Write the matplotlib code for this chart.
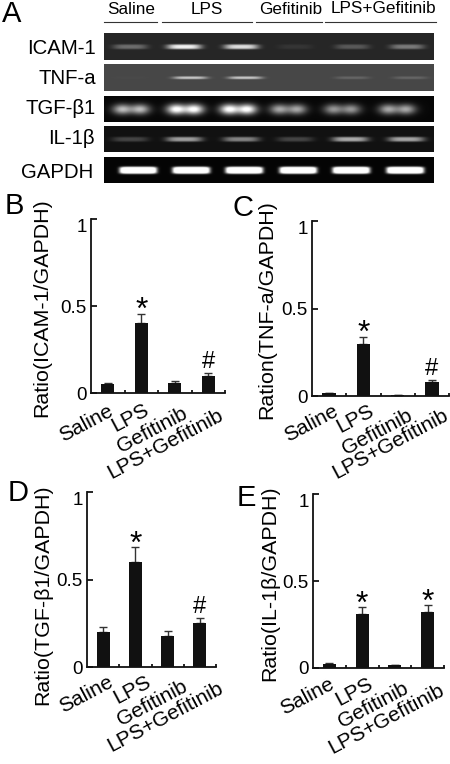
import numpy as np
import matplotlib
matplotlib.use("Agg")
from matplotlib import pyplot as plt
from matplotlib.lines import Line2D

W, H = 450, 764
plt.rcParams['font.family'] = ['Liberation Sans', 'DejaVu Sans']

groups = ['Saline', 'LPS', 'Gefitinib', 'LPS+Gefitinib']
genes = ['ICAM-1', 'TNF-a', 'TGF-β1', 'IL-1β', 'GAPDH']

# band brightness per lane
icam_bands = [0.28, 0.80, 0.72, 0.06, 0.20, 0.33]
tnf_bands = [0.01, 0.50, 0.50, 0.00, 0.12, 0.12]
tgf_bands = [0.70, 1.00, 1.00, 0.62, 0.55, 0.62]
il_bands = [0.20, 0.55, 0.45, 0.20, 0.60, 0.58]
gapdh_bands = [1.6, 1.6, 1.6, 1.6, 1.6, 1.6]
# lane centres in each strip
icam_lanes = [130, 184, 241, 295, 352, 407]
tnf_lanes = [130, 190, 245, 298, 352, 410]
tgf_lanes = [131, 185, 238, 288, 342, 397]
il_lanes = [130, 184, 241, 295, 350, 406]
gapdh_lanes = [138, 191, 244, 298, 351, 405]

icam_vals = [0.05, 0.40, 0.055, 0.095]
icam_err = [0.008, 0.055, 0.012, 0.018]
tnf_vals = [0.015, 0.30, 0.005, 0.08]
tnf_err = [0.005, 0.04, 0.002, 0.012]
tgf_vals = [0.20, 0.60, 0.175, 0.25]
tgf_err = [0.03, 0.085, 0.03, 0.03]
il_vals = [0.025, 0.31, 0.015, 0.32]
il_err = [0.006, 0.04, 0.005, 0.04]

fig = plt.figure(figsize=(W / 100, H / 100), dpi=100)


def px_axes(left, top, right, bottom):
    return fig.add_axes([left / W, 1 - bottom / H, (right - left) / W, (bottom - top) / H])


def px_text(x, y, s, **kw):
    fig.text(x / W, 1 - y / H, s, **kw)


def gel_strip(top, bottom, bands, lanes, bg, half_w, half_h, lobes=False, edge=4):
    ax = px_axes(104, top, 434, bottom)
    xs = np.arange(104, 434, 0.5)
    ys = np.arange(0, bottom - top, 0.5)
    xx, yy = np.meshgrid(xs, ys)
    img = np.full(xx.shape, bg, dtype=float)
    mid = (bottom - top) * 0.5
    for lane, level in zip(lanes, bands):
        if lobes:
            # two bright lobes in the wide TGF bands
            band = np.exp(-((xx - lane + 9) / 9.5) ** 2) + np.exp(-((xx - lane - 9) / 9.5) ** 2)
            band = band * np.exp(-((yy - mid) / half_h) ** 2)
        else:
            band = np.exp(-((xx - lane) / half_w) ** edge) * np.exp(-((yy - mid) / half_h) ** 4)
        img += level * band
    ax.imshow(np.clip(img, 0, 1), cmap='gray', vmin=0, vmax=1, aspect='auto',
              extent=(104, 434, bottom - top, 0), interpolation='bilinear')
    ax.axis('off')


gel_strip(33, 60, icam_bands, icam_lanes, 0.15, 17, 2.4)
gel_strip(64, 91, tnf_bands, tnf_lanes, 0.28, 17, 1.4)
gel_strip(96, 122, tgf_bands, tgf_lanes, 0.03, 18, 5.0, lobes=True)
gel_strip(126, 152, il_bands, il_lanes, 0.07, 18, 2.4)
gel_strip(157, 183, gapdh_bands, gapdh_lanes, 0.02, 18.5, 3.4, edge=8)

for gene, y, x in zip(genes, [48, 78, 108, 139, 172], [96, 96, 96, 95, 93]):
    px_text(x, y, gene, fontsize=14.7, ha='right', va='center', color='#000000')

for name, x, y in zip(groups, [131, 207, 291, 383], [14, 14, 14, 13]):
    px_text(x, y, name, fontsize=12.3, ha='center', va='baseline', color='#000000')
for x0, x1 in [(104, 157), (162, 252), (256, 322), (325, 436)]:
    fig.add_artist(Line2D([x0 / W, x1 / W], [1 - 22 / H, 1 - 22 / H], color='#333333', lw=0.8))

for letter, x, y in [('A', 2, 22), ('B', 5, 214), ('C', 232, 216), ('D', 8, 501), ('E', 237, 506)]:
    px_text(x, y, letter, fontsize=21, ha='left', va='baseline', color='#000000')


def bar_panel(box, vals, err, marks, ylabel, label_xy, ends):
    ax = px_axes(*box)
    x = np.arange(len(vals))
    ax.bar(x, vals, width=0.4, color='#111111', zorder=3)
    ax.errorbar(x, vals, yerr=[np.zeros(len(vals)), err], fmt='none', ecolor='#333333',
                elinewidth=1.0, capsize=3, capthick=1.0, zorder=2)
    ax.set_xlim(-0.5, 3.5)
    ax.set_ylim(0, 1)
    ax.spines['top'].set_visible(False)
    ax.spines['right'].set_visible(False)
    for side in ['left', 'bottom']:
        ax.spines[side].set_linewidth(1.3)
        ax.spines[side].set_color('#111111')
    ax.set_yticks([0, 0.5, 1], ['0', '0.5', '1'])
    ax.tick_params(axis='y', direction='in', length=4, width=1.2, labelsize=13.5, pad=3)
    ax.get_yticklabels()[2].set_verticalalignment('top')
    ax.set_xticks(x + 0.5)
    ax.set_xticklabels([])
    ax.tick_params(axis='x', direction='in', length=2.5, width=1.2)
    for i, name in enumerate(groups):
        px_text(ends[i][0], ends[i][1], name, fontsize=15, rotation=28,
                rotation_mode='anchor', ha='right', va='top', color='#000000')
        top = vals[i] + err[i]
        if marks[i] == '*':
            ax.annotate('*', (x[i], top), xytext=(0, -9), textcoords='offset points',
                        ha='center', va='bottom', fontsize=23, color='#000000')
        elif marks[i] == '#':
            ax.annotate('#', (x[i], top), xytext=(0, 0), textcoords='offset points',
                        ha='center', va='bottom', fontsize=17, color='#000000')
    px_text(label_xy[0], label_xy[1], ylabel, fontsize=15.4, rotation=90,
            ha='center', va='center', color='#000000')


bar_panel((91, 219, 225, 393), icam_vals, icam_err, ['', '*', '', '#'],
          'Ratio(ICAM-1/GAPDH)', (42, 308),
          [(107, 401), (143, 400), (182, 404), (217, 406)])
bar_panel((312, 221, 449, 396), tnf_vals, tnf_err, ['', '*', '', '#'],
          'Ration(TNF-a/GAPDH)', (267, 310),
          [(332, 401), (368, 401), (407, 406), (442, 406)])
bar_panel((87, 492, 216, 667), tgf_vals, tgf_err, ['', '*', '', '#'],
          'Ratio(TGF-β1/GAPDH)', (43, 595),
          [(107, 672), (145, 672), (182, 677), (217, 679)])
bar_panel((313, 494, 444, 668), il_vals, il_err, ['', '*', '', '*'],
          'Ratio(IL-1β/GAPDH)', (270, 583),
          [(328, 674), (367, 674), (403, 679), (438, 681)])

fig.savefig('out.png', dpi=100)
